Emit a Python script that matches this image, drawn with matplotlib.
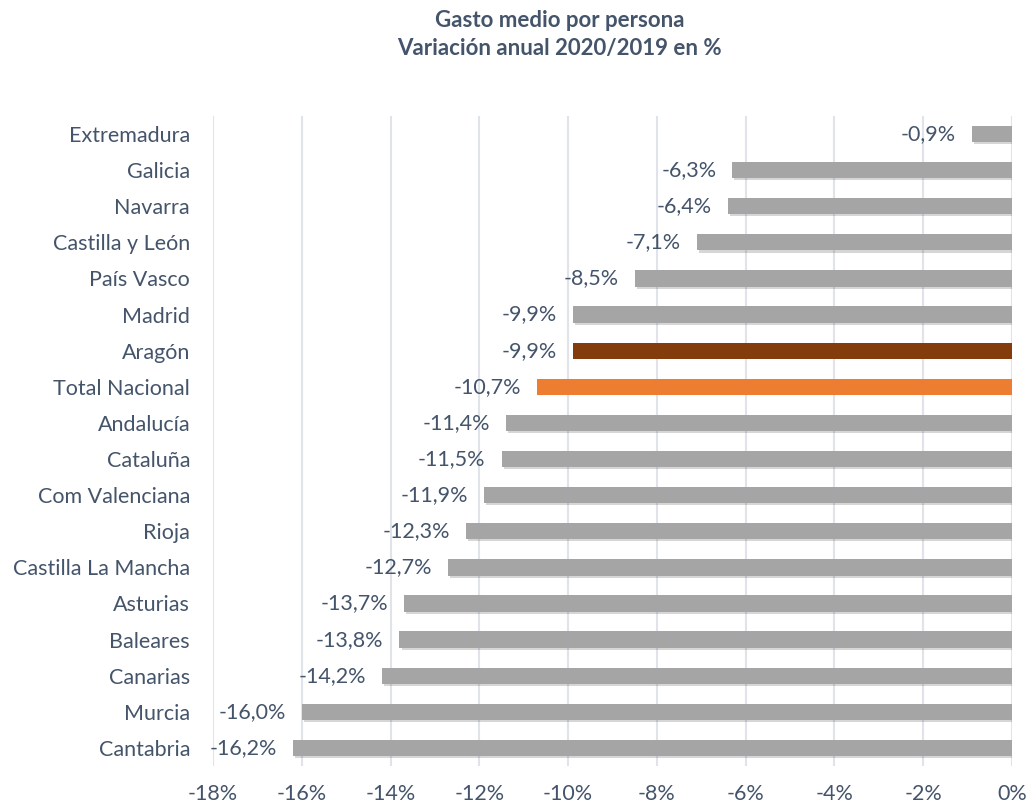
import matplotlib
matplotlib.use('Agg')
import matplotlib.pyplot as plt
import matplotlib.patheffects as pe

regions = ['Extremadura', 'Galicia', 'Navarra', 'Castilla y León', 'País Vasco',
           'Madrid', 'Aragón', 'Total Nacional', 'Andalucía', 'Cataluña',
           'Com Valenciana', 'Rioja', 'Castilla La Mancha', 'Asturias',
           'Baleares', 'Canarias', 'Murcia', 'Cantabria']
values = [-0.9, -6.3, -6.4, -7.1, -8.5, -9.9, -9.9, -10.7, -11.4, -11.5,
          -11.9, -12.3, -12.7, -13.7, -13.8, -14.2, -16.0, -16.2]
xticks = [-18, -16, -14, -12, -10, -8, -6, -4, -2, 0]

text_col = '#44546A'
colors = []
for r in regions:
    if r == 'Aragón':
        colors.append('#843C0C')
    elif r == 'Total Nacional':
        colors.append('#ED7D31')
    else:
        colors.append('#A5A5A5')

plt.rcParams['font.family'] = ['Lato', 'DejaVu Sans']

fig = plt.figure(figsize=(10.32, 8.07), dpi=100)
ax = fig.add_axes([0.2064, 0.0508, 0.7742, 0.8055])

pos = list(range(len(regions)))
bars = ax.barh(pos, values, height=0.45, color=colors, zorder=3)
for b, c in zip(bars, colors):
    if c == '#A5A5A5':
        b.set_path_effects([pe.SimplePatchShadow(offset=(1.5, -1.5), alpha=0.2), pe.Normal()])

for p, v in zip(pos, values):
    ax.text(v - 0.36, p, ('%.1f%%' % v).replace('.', ','), ha='right', va='center',
            fontsize=15.5, color=text_col, zorder=4)

ax.set_ylim(len(regions) - 0.5, -0.5)
ax.set_xlim(-18, 0)
ax.set_yticks(pos)
ax.set_yticklabels(regions, fontsize=15.5, color=text_col)
ax.set_xticks(xticks)
ax.set_xticklabels(['%d%%' % t for t in xticks], fontsize=15.5, color=text_col)
ax.tick_params(length=0, pad=13)
ax.tick_params(axis='y', pad=16.5)
ax.grid(axis='x', color='#E0E4EA', linewidth=1.5, zorder=0)
for s in ax.spines.values():
    s.set_visible(False)

fig.text(0.542, 0.957, 'Gasto medio por persona\nVariación anual 2020/2019 en %',
         ha='center', va='center', fontsize=16, fontweight='bold', color=text_col,
         linespacing=1.4)

fig.savefig('out.png', dpi=100)
